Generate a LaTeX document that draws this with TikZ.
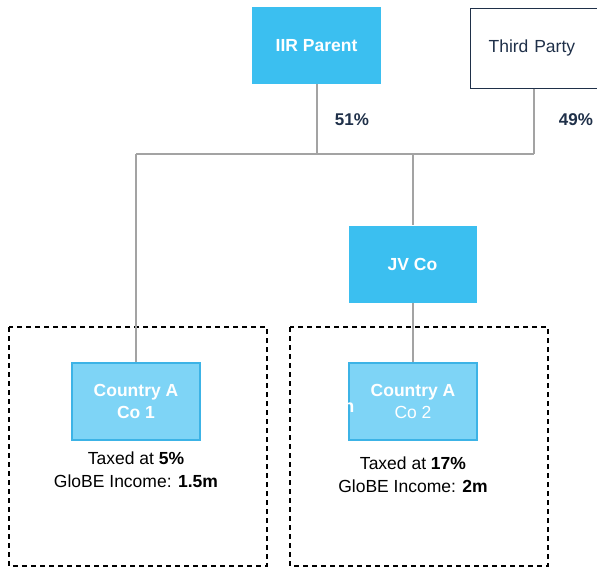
\documentclass[tikz,border=0pt]{standalone}
\usepackage{fontspec}
\setmainfont{Liberation Sans}
\begin{document}
\begin{tikzpicture}[x=1pt,y=-1pt,
  entity/.style={rectangle, minimum width=128pt, minimum height=77pt, inner sep=0pt,
    align=center, font=\fontsize{17.5}{22}\selectfont},
  topbox/.style={entity, fill=topblue, text=white, font=\fontsize{17.5}{22}\selectfont\bfseries},
  subbox/.style={entity, fill=lightblue, draw=edgeblue, line width=1.2pt, text=white},
  link/.style={draw=linkgray, line width=1.5pt},
  pct/.style={text=navy, font=\fontsize{17}{20}\selectfont\bfseries},
  note/.style={align=center, font=\fontsize{17.5}{23}\selectfont},
  zone/.style={draw=black, line width=1.4pt, dash pattern=on 5pt off 4pt}]
\definecolor{topblue}{HTML}{3BBFF0}
\definecolor{lightblue}{HTML}{7ED4F6}
\definecolor{edgeblue}{HTML}{3CB3E6}
\definecolor{linkgray}{HTML}{A3A3A3}
\definecolor{navy}{HTML}{1F3049}
\useasboundingbox (0,0) rectangle (597,568);
\clip (0,0) rectangle (597,568);

% jurisdiction zones
\draw[zone] (9,327) rectangle (267,566);
\draw[zone] (290,327) rectangle (548,566);

% entities
\node[topbox, minimum width=129pt] (parent) at (316.5,45.5) {IIR Parent};
\node[rectangle, draw=navy, line width=1.2pt, text=navy, anchor=north west,
      minimum height=80pt, text width=120pt, inner xsep=18pt, inner ysep=0pt, align=left,
      font=\fontsize{17.5}{22}\selectfont] (third) at (470,7.5) {Third Party};
\node[topbox] (jv) at (412.5,264) {JV Co};
\node[subbox] (co1) at (136,401.5) {\textbf{Country A}\\\textbf{Co 1}};
\node[subbox] (co2) at (413,401.5) {\textbf{Country A}\\Co 2};

% stray label fragment at the left edge of Co 2
\begin{scope}
  \clip (co2.north west) rectangle (co2.south east);
  \node[text=white, font=\fontsize{18}{20}\selectfont\bfseries, anchor=base east, inner sep=0pt] (frag) at (354.5,412) {n};
\end{scope}

% ownership connectors
\coordinate (jL) at (136,154);
\coordinate (jM) at (317,154);
\coordinate (jJV) at (413,154);
\coordinate (jR) at (534,154);
\draw[link] (parent.south -| jM) -- (jM);
\draw[link] (third.south -| jR) -- (jR);
\draw[link] (jL) -- (jR);
\draw[link] (jJV) -- (jv.north -| jJV);
\draw[link] (jL) -- (co1.north);
\draw[link] (jv.south -| co2.north) -- (co2.north);

% percentages
\node[pct] (p51) at (352,120) {51\%};
\node[pct] (p49) at (576,120) {49\%};

% tax notes
\node[note, anchor=north] (n1) at (136,448) {Taxed at \textbf{5\%}\\GloBE Income: \textbf{1.5m}};
\node[note, anchor=north] (n2) at (413,453) {Taxed at \textbf{17\%}\\GloBE Income: \textbf{2m}};
\end{tikzpicture}
\end{document}
